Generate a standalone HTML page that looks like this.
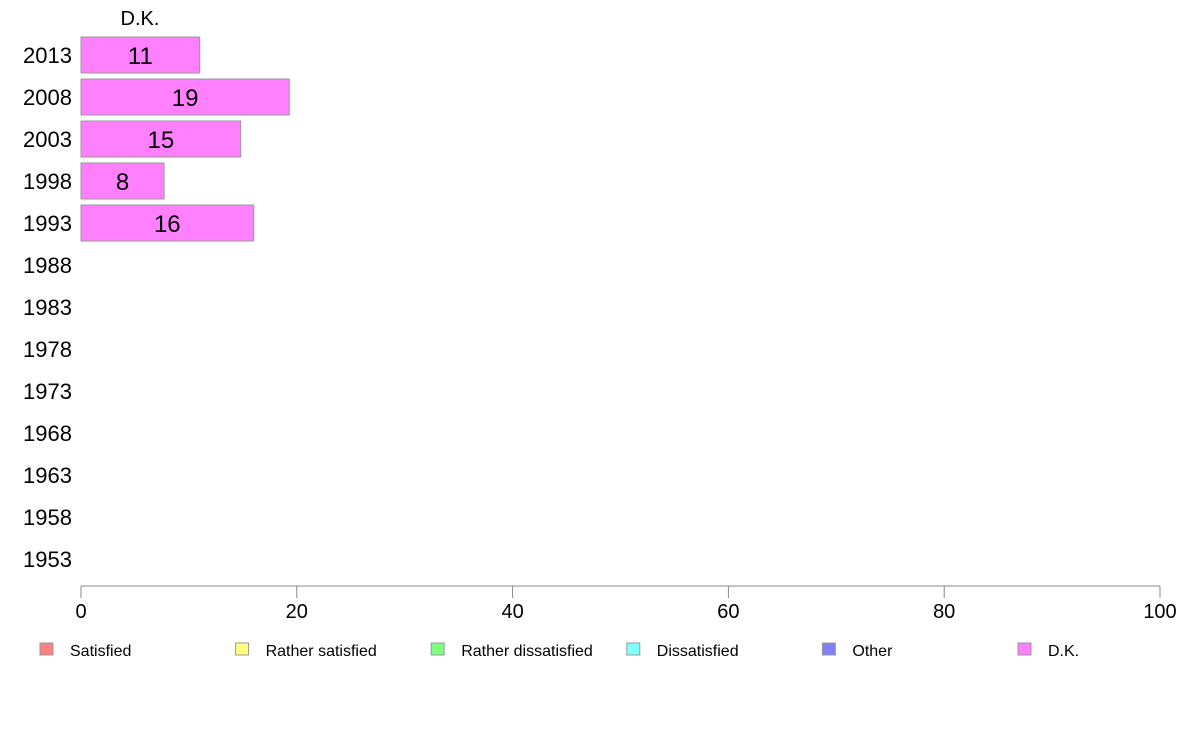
<!DOCTYPE html>
<html><head><meta charset="utf-8"><style>
body{margin:0;background:#fff;}
svg text{font-family:"Liberation Sans",sans-serif;}
</style></head><body>
<svg width="1188" height="736">
<g id="plot"></g>
<g id="axis"></g>
<g id="legend"></g>
<text x="140" y="25" font-size="20" text-anchor="middle">D.K.</text>
</svg>
<script>
const categories=["2013","2008","2003","1998","1993","1988","1983","1978","1973","1968","1963","1958","1953"];
const dkValues=[11,19.3,14.8,7.7,16,null,null,null,null,null,null,null,null];
const xTicks=[0,20,40,60,80,100];
const legendLabels=["Satisfied","Rather satisfied","Rather dissatisfied","Dissatisfied","Other","D.K."];
const legendColors=["#ff8080","#ffff80","#80ff80","#80ffff","#8080ff","#ff80ff"];
const NS="http://www.w3.org/2000/svg";
const x=v=>81+v*(1160-81)/100;
const y=i=>55+i*42;
function mk(t,a,p){const e=document.createElementNS(NS,t);for(const k in a)e.setAttribute(k,a[k]);p.appendChild(e);return e;}
const plot=document.getElementById('plot');
categories.forEach((c,i)=>{
  const t=mk('text',{x:72,y:y(i)+8,'font-size':22,'text-anchor':'end'},plot);t.textContent=c;
  
  
  const v=dkValues[i];
  if(v!=null){
    const r=mk('rect',{x:x(0),y:y(i)-18,width:x(v)-x(0),height:36,fill:'#ff80ff',stroke:'#999','stroke-width':1},plot);
    
    
    const l=mk('text',{x:(x(0)+x(v))/2,y:y(i)+9,'font-size':24,'text-anchor':'middle'},plot);l.textContent=Math.round(v);
    
    
  }
});
const ax=document.getElementById('axis');
mk('line',{x1:x(0),x2:x(100),y1:586,y2:586,stroke:'#888'},ax);
xTicks.forEach(t=>{
  mk('line',{x1:x(t),x2:x(t),y1:586,y2:598,stroke:'#888'},ax);
  const e=mk('text',{x:x(t),y:618,'font-size':20,'text-anchor':'middle'},ax);e.textContent=t;
  
  
});
const lg=document.getElementById('legend');
legendLabels.forEach((l,i)=>{
  const bx=40+i*195.6;
  const g=mk('g',{},lg);
  
  
  mk('rect',{x:bx,y:643,width:13,height:12,fill:legendColors[i],stroke:'#999'},g);
  const t=mk('text',{x:bx+30,y:656,'font-size':16},g);t.textContent=l;
});
</script>
</body></html>
